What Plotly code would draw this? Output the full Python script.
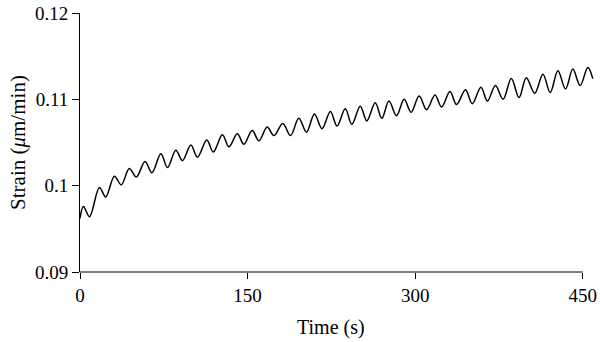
import plotly.graph_objects as go

# Time (s) and strain values read at the peaks/troughs of the curve
time_s = [0, 3.1, 8.5, 17.4, 23.0, 30.8, 37.0, 44.1, 50.4, 58.2, 64.4, 72.4, 78.3, 85.8,
          91.7, 99.2, 105.1, 113.5, 119.3, 127.4, 133.3, 140.8, 146.7, 154.1, 160.1, 167.5,
          173.5, 181.5, 188.4, 195.8, 202.7, 209.8, 216.6, 224.1, 230.0, 237.4, 243.3, 250.8,
          256.7, 264.2, 270.1, 276.5, 283.2, 290.1, 296.3, 303.5, 310.2, 317.7, 323.6, 331.1,
          337.0, 345.0, 351.0, 358.8, 364.6, 371.8, 378.6, 386.0, 392.9, 399.4, 406.9, 414.3,
          420.8, 427.7, 434.5, 441.1, 447.6, 454.5, 458.9]
strain = [0.0962, 0.0976, 0.0964, 0.0998, 0.0987, 0.1011, 0.1001, 0.1020, 0.1010, 0.1028,
          0.1015, 0.1037, 0.1021, 0.1041, 0.1029, 0.1047, 0.1033, 0.1053, 0.1039, 0.1059,
          0.1045, 0.1060, 0.1048, 0.1064, 0.1052, 0.1068, 0.1058, 0.1072, 0.1058, 0.1078,
          0.1062, 0.1083, 0.1066, 0.1086, 0.1069, 0.1089, 0.1071, 0.1092, 0.1075, 0.1096,
          0.1078, 0.1098, 0.1081, 0.1100, 0.1085, 0.1104, 0.1088, 0.1105, 0.1091, 0.1109,
          0.1094, 0.1111, 0.1095, 0.1114, 0.1098, 0.1116, 0.1100, 0.1124, 0.1102, 0.1125,
          0.1107, 0.1129, 0.1108, 0.1133, 0.1112, 0.1135, 0.1116, 0.1137, 0.1124]

x_ticks = [0, 150, 300, 450]
y_ticks = [0.09, 0.1, 0.11, 0.12]
y_tick_labels = ["0.09", "0.1", "0.11", "0.12"]
x_title = "Time (s)"
y_title = "Strain (<i>μ</i>m/min)"

FONT = "Liberation Serif, Times New Roman, serif"

fig = go.Figure()
fig.add_trace(go.Scatter(
    x=time_s, y=strain, mode="lines",
    line=dict(color="black", width=1.5, shape="spline", smoothing=1.0),
    showlegend=False, hoverinfo="skip",
))

# x axis line only spans the tick range (data runs a little past it)
fig.add_shape(type="line", xref="x", yref="paper",
              x0=x_ticks[0], x1=x_ticks[-1], y0=0, y1=0,
              line=dict(color="black", width=1))

fig.add_annotation(text=x_title, xref="x", yref="paper",
                   x=(x_ticks[0] + x_ticks[-1]) / 2, y=0,
                   yanchor="middle", yshift=-55, showarrow=False,
                   font=dict(family=FONT, size=20, color="black"))

fig.update_layout(
    width=600, height=342,
    margin=dict(l=80, r=3, t=12, b=70),
    paper_bgcolor="white", plot_bgcolor="white",
    font=dict(family=FONT, size=19, color="black"),
    xaxis=dict(
        range=[0, 460], tickvals=x_ticks, ticks="outside", ticklen=6,
        tickcolor="black", tickwidth=1, showline=False, showgrid=False,
        zeroline=False, tickfont=dict(size=19), ticklabeloverflow="allow",
    ),
    yaxis=dict(
        range=[0.09, 0.12], tickvals=y_ticks, ticktext=y_tick_labels,
        ticks="outside", ticklen=7, tickcolor="black", tickwidth=1,
        showline=True, linecolor="black", linewidth=1, showgrid=False,
        zeroline=False, tickfont=dict(size=19),
        title=dict(text=y_title, font=dict(size=21), standoff=3),
    ),
)

fig.write_html("out.html")
